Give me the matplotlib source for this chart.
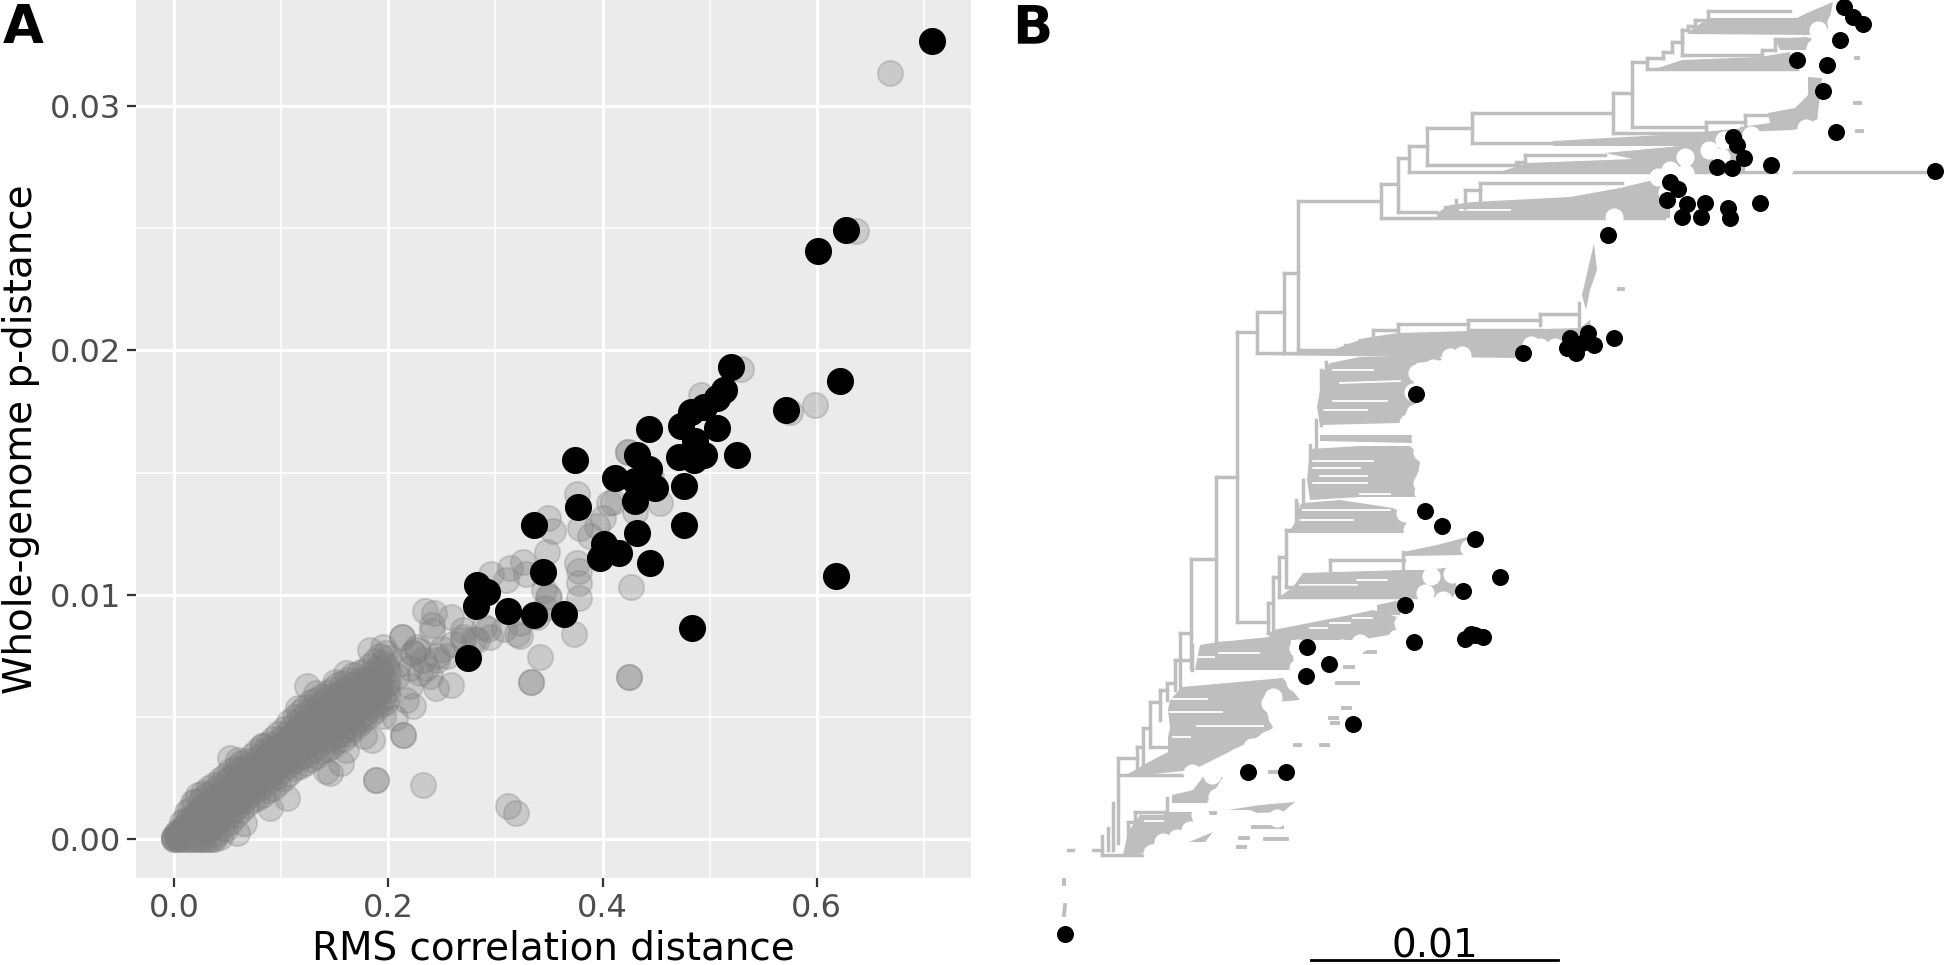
import matplotlib
matplotlib.use("Agg")
import matplotlib.pyplot as plt
from matplotlib.ticker import MultipleLocator

# panel A: highlighted genomes
black_x = [.708,.601,.627,.520,.622,.618,.571,.484,.526,.513,.507,.495,.483,.507,.473,.443,.495,.486,.485,.471,.432,.443,
           .430,.412,.449,.430,.476,.476,.432,.374,.377,.336,.344,.401,.398,.415,.444,.283,.292,.282,.312,.336,.364,.274]
black_y = [.03265,.02407,.02492,.01934,.01876,.01078,.01758,.00864,.01573,.01838,.01806,.01768,.0175,.01684,.01692,.01679,
           .01573,.01629,.01553,.01563,.01573,.01515,.01465,.01477,.01439,.01384,.01444,.01285,.01253,.0155,.01361,.01285,
           .01093,.01207,.01152,.01172,.01129,.0104,.0101,.00955,.00934,.00919,.00922,.0074]

# panel A: the rest, sparse part
grey_far = [(.668,.03136),(.637,.0249),(.529,.01924),(.598,.01778),(.575,.01747),(.492,.01818),(.424,.01586),(.424,.01586),
            (.376,.01414),(.406,.01376),(.400,.01313),(.454,.01376),(.349,.01313),(.354,.01263),(.379,.01275),(.388,.01242),
            (.348,.01174),(.376,.01131),(.378,.01098),(.378,.01048),(.378,.00985),(.427,.0103),(.349,.00997),(.346,.00947),
            (.296,.01086),(.314,.01111),(.326,.01136),(.329,.01086),(.339,.00909),(.373,.00841),(.342,.00745),(.333,.00644),
            (.333,.00644),(.425,.00664),(.425,.00664),(.323,.00833),(.323,.00884),(.308,.00859),(.293,.00859),
            (.445,.0148),(.41,.0138),(.43,.0134),(.395,.0128),(.31,.0106),(.35,.0099),(.345,.0102),(.32,.0084),
            (.124,.00625),(.133,.00598),(.116,.00537),(.0834,.0038),(.052,.00332),(.06,.00325),(.2142,.00425),(.2142,.00425),
            (.1886,.00243),(.1886,.00243),(.2328,.00223),(.312,.00134),(.319,.00107),(.146,.0027),(.142,.00277),(.156,.00311),
            (.161,.00366),(.1845,.00407),(.177,.00421),(.195,.00502),(.206,.00495),(.223,.00543),(.217,.00571),(.245,.00619),
            (.259,.00632),(.234,.00932),(.243,.00925),(.259,.00911),(.241,.00877),(.241,.00851),(.2125,.00829),(.2125,.00829),
            (.183,.00775),(.195,.00788),(.161,.00679),(.1505,.00645),(.0897,.00128),(.1051,.00168),(.0585,.00026),(.065,.00066),
            (.2234,.00762),(.2234,.00762),(.2266,.00788),(.2266,.00775),(.2328,.00735),(.2453,.00735),(.2453,.00748),(.2547,.00748),
            (.27,.00829),(.27,.00816),(.2826,.00816),(.295,.00829),(.289,.0087),(.27,.00857),(.2297,.00679),(.239,.00666),
            (.208,.00666),(.1986,.00612),(.22,.00625),(.21,.0072),(.22,.0070),(.235,.0070),(.25,.0078),(.26,.0080),(.28,.0082)]

# panel A: dense band, for each x the p-distances read across the band
band_x = [0,.005,.01,.015,.02,.025,.03,.035,.04,.045,.05,.055,.06,.065,.07,.075,.08,.085,.09,.095,.1,.105,.11,.115,.12,.125,
          .13,.135,.14,.145,.15,.155,.16,.165,.17,.175,.18,.185,.19,.195,.2]
band_y = [[0,.0001,0,.0001],[0,.0001,.0002,.0003],[0,.0003,.0005,.0008],[0,.0004,.0008,.0012],[0,.0005,.001,.0015],
          [0,.0004,.0008,.0012,.0016],[0,.0004,.0009,.0014,.0018],[0,.0005,.001,.0015,.0019],[.0002,.0007,.0012,.0017,.0021],
          [.0005,.0009,.0014,.0019,.0023],[.0009,.0013,.0017,.0021,.0024],[.0012,.0015,.0019,.0023,.0026],
          [.0014,.0017,.0021,.0025,.0028],[.0016,.0019,.0023,.0026,.0029],[.0018,.0021,.0024,.0027,.003],
          [.002,.0023,.0026,.0029,.0032],[.0021,.0024,.0028,.0031,.0034],[.0023,.0026,.003,.0033,.0036],
          [.0024,.0028,.0031,.0034,.0037],[.0026,.0029,.0033,.0036,.0039],[.0028,.0031,.0035,.0038,.0041],
          [.003,.0033,.0037,.004,.0043],[.0032,.0035,.0039,.0043,.0046],[.0033,.0037,.0041,.0045,.0048],
          [.0034,.0038,.0042,.0046,.005],[.0035,.0039,.0044,.0048,.0052],[.0037,.0041,.0045,.0049,.0053],
          [.0038,.0042,.0047,.0051,.0055],[.004,.0044,.0048,.0052,.0056],[.0041,.0045,.005,.0054,.0058],
          [.0042,.0046,.0051,.0055,.0059],[.0043,.0047,.0052,.0056,.006],[.0045,.0049,.0053,.0057,.0061],
          [.0046,.005,.0055,.0059,.0063],[.0048,.0052,.0056,.006,.0064],[.005,.0054,.0058,.0062,.0065],
          [.0052,.0055,.0059,.0063,.0066],[.0054,.0058,.0063,.0068],[.0056,.006,.0065,.007],[.0058,.0062,.0067,.0072],
          [.0058,.0064,.0069,.0074]]

# same band, the genomes lying between those columns
band2_x = [.0025,.0075,.0125,.0175,.0225,.0275,.0325,.0375,.0425,.0475,.0525,.0575,.0625,.0675,.0725,.0775,.0825,.0875,.0925,
           .0975,.1025,.1075,.1125,.1175,.1225,.1275,.1325,.1375,.1425,.1475,.1525,.1575,.1625,.1675,.1725,.1775,.1825,.1875,
           .1925,.1975]
band2_y = [[0,.0001,.0002,.0003],[0,.0002,.0004,.0007],[0,.0003,.0007,.0011],[0,.0004,.0009,.0015],[0,.0005,.0011,.0018],
           [0,.0006,.0013,.0019],[0,.0007,.0014,.0021],[0,.0007,.0015,.0022],[.0001,.0009,.0017,.0024],[.0004,.0011,.0019,.0026],
           [.0007,.0013,.002,.0028],[.001,.0015,.0022,.0029],[.0012,.0017,.0024,.0031],[.0014,.0019,.0026,.0032],
           [.0016,.0021,.0027,.0034],[.0017,.0023,.0029,.0036],[.0018,.0025,.0031,.0038],[.002,.0026,.0033,.0039],
           [.0021,.0028,.0034,.0041],[.0023,.003,.0037,.0043],[.0025,.0032,.0039,.0045],[.0027,.0034,.0041,.0048],
           [.0029,.0036,.0043,.005],[.003,.0037,.0045,.0052],[.0031,.0039,.0047,.0054],[.0033,.004,.0048,.0056],
           [.0034,.0042,.005,.0057],[.0036,.0044,.0052,.0058],[.0037,.0045,.0053,.006],[.0038,.0046,.0054,.0061],
           [.004,.0048,.0056,.0063],[.0041,.0049,.0057,.0064],[.0043,.0051,.0059,.0065],[.0045,.0053,.006,.0067],
           [.0047,.0054,.0061,.0068],[.0049,.0056,.0063,.0069],[.0051,.0058,.0065,.0071],[.0053,.006,.0067,.0073],
           [.0055,.0062,.0069,.0075],[.0056,.0064,.0071,.0076]]

xticks_a = [0.0, 0.2, 0.4, 0.6]
yticks_a = [0.00, 0.01, 0.02, 0.03]

# panel B: tree, x0, y0, x1, y1
branches = [(1632,62,1632,127),(1632,62,1647,62),(1647,58,1647,68),(1647,58,1663,58),(1663,58,1663,52),(1663,52,1672,52),
            (1672,52,1672,42),(1672,42,1682,42),(1682,42,1682,30),(1682,30,1688,30),(1688,30,1688,26),(1688,26,1695,26),
            (1695,26,1695,20),(1695,20,1708,20),(1708,20,1708,11),(1708,11,1790,11),(1682,30,1682,55),(1682,55,1762,55),
            (1762,50,1762,55),(1762,50,1775,50),(1775,39,1775,50),(1775,39,1809,39),(1647,69,1797,69),(1612.6,93,1632,93),
            (1612.6,93,1612.6,133),(1612.6,133,1706,133),(1632,127,1706,127),(1706,122,1706,133),(1706,122,1745,122),
            (1745,115,1745,125),(1745,115,1775,115),(1472,113,1612.6,113),(1472,113,1472,143),(1472,143,1560,143),
            (1427,128,1472,128),(1427,128,1427,165),(1427,165,1519,165),(1408.6,146,1427,146),(1408.6,146,1408.6,172),
            (1408.6,172,1929,172),(1398,158,1408.6,158),(1398,158,1398,212),(1398,212,1436,212),(1381,184,1398,184),
            (1381,184,1381,218),(1381,218,1664,218),(1297.5,201,1381,201),(1297.5,201,1297.5,350),(1297.5,350,1332,350),
            (1283.6,273,1297.5,273),(1283.6,273,1283.6,353),(1256.5,312,1283.6,312),(1256.5,312,1256.5,353),(1256.5,353,1340,353),
            (1236.6,332,1256.5,332),(1236.6,332,1236.6,622),(1236.6,622,1268,622),(1216,477,1236.6,477),(1216,477,1216,643),
            (1216,643,1240,643),(1190.6,559,1216,559),(1190.6,559,1190.6,668),(1180,633,1190.6,633),(1180,633,1180,690),
            (1268,603,1268,633),(1268,603,1273,603),(1268,633,1300,633),(1273,577,1273,632),(1273,577,1279,577),
            (1279,557,1279,597),(1279,597,1424,597),(1279,557,1286,557),(1286,530,1286,587),(1286,587,1360,587),
            (1286,530,1300,530),(1525,155,1605,155),(1516,162,1525,162),(1525,155,1525,165),(1480,183,1622,183),
            (1480,183,1480,200),(1465,190,1480,190),(1465,190,1465,208),(1456,200,1456,212),(1445,207,1456,207),
            (1458,206,1570,206),(1579,303,1579,327),(1540,314,1576,314),(1540,314,1540,325),(1468,320,1540,320),
            (1468,320,1468,330),(1468,330,1540,330),(1398,324,1468,324),(1398,324,1398,335),(1373,330,1398,330),(1373,330,1373,340),
            (1360,340,1373,340),(1345,345,1360,345),(1330,560,1404,560),(1330,560,1330,570),(1403,552,1403,570),
            (1192,645,1192,670),(1297,504,1297,530),
            # left edge of the big middle clades
            (1326,362,1326,372),(1321,370,1321,425),(1316,420,1316,450),(1310,445,1310,485),(1303,480,1303,505),(1296,500,1296,530),
            # bottom ladder
            (1175,660,1190,660),(1175,660,1175,690),(1167,683,1175,683),(1167,683,1167,700),(1160,690,1167,690),(1160,690,1160,720),
            (1150,702,1160,702),(1150,702,1150,747),(1150,747,1168,747),(1143,728,1150,728),(1143,728,1143,770),(1137,747,1143,747),
            (1137,747,1137,770),(1118,758,1137,758),(1118,758,1118,843),(1118,775,1190,775),(1113,803,1113,850),(1108,828,1108,850),
            (1102,836,1102,855),(1102,855,1147,855),(1068,850,1102,850),(1167,798,1167,812),(1135,812,1167,812),(1135,812,1135,840),
            (1128,822,1135,822),(1128,822,1128,845)]

# collapsed clades, drawn as filled shapes
clades = [[(1687,34),(1693,28),(1710,18),(1797,18),(1807,13),(1833,2),(1827,33),(1807,35)],
          [(1655,69),(1682,60),(1760,57),(1790,52),(1793,70)],
          [(1775,39),(1807,37),(1820,50),(1780,50)],
          [(1768,113),(1795,108),(1808,95),(1808,77),(1822,78),(1818,113),(1817,125),(1793,130),(1740,132),(1740,127),(1770,123)],
          [(1553,141),(1680,134),(1745,128),(1745,172),(1500,172),(1527,163),(1633,159),(1605,153),(1680,146),(1553,146)],
          [(1437,213),(1450,205),(1473,202),(1570,197),(1620,188),(1653,180),(1670,172),(1670,218),(1437,218)],
          [(1594,243),(1597,270),(1590,290),(1586,310),(1582,295)],
          [(1332,350),(1365,338),(1398,333),(1470,331),(1580,328),(1590,320),(1593,345),(1540,352),(1519,358),(1260,355)],
          [(1322,372),(1330,363),(1360,357),(1437,355),(1443,360),(1417,363),(1410,373),(1417,390),(1417,403),(1410,407),
           (1400,423),(1320,425),(1317,407),(1322,380)],
          [(1320,435),(1412,435),(1412,443),(1320,441)],
          [(1310,449),(1360,446),(1410,446),(1417,453),(1420,463),(1417,480),(1423,497),(1360,497),(1310,500),(1307,480)],
          [(1303,503),(1340,500),(1393,508),(1403,513),(1410,533),(1288,533),(1297,520),(1300,505)],
          [(1403,552),(1437,545),(1467,537),(1467,555),(1405,556)],
          [(1303,573),(1403,570),(1427,570),(1453,567),(1457,590),(1453,597),(1278,598),(1293,587)],
          [(1377,605),(1400,600),(1400,615),(1377,615)],
          [(1273,630),(1350,615),(1373,610),(1397,617),(1400,633),(1360,640),(1267,640)],
          [(1200,645),(1219,642),(1290,635),(1295,670),(1195,670)],
          [(1182,687),(1283,678),(1300,700),(1263,703),(1273,728),(1247,743),(1193,770),(1123,777),(1147,763),(1168,752),
           (1168,737),(1170,728),(1168,710),(1170,700)],
          [(1172,803),(1172,795),(1193,790),(1203,777),(1223,777),(1207,803)],
          [(1123,855),(1128,832),(1142,812),(1193,812),(1193,822),(1183,830),(1157,840),(1147,853)],
          [(1228,810),(1260,805),(1295,802),(1283,812),(1257,813),(1250,810)],
          [(1189,842),(1213,832),(1205,842)]]

# little bits of branch left between the white tips
stubs = [(1253,827,1282,827),(1265,839,1287,839),(1240,838,1248,838),(1238,847,1245,847),(1345,667,1353,667),
         (1337,683,1358,683),(1295,745,1300,745),(1321,745,1328,745),(1207,813,1215,813),(1365,652,1375,652),
         (1330,718,1337,718),(1332,723,1338,723),(1343,708,1350,708),(1270,772,1280,772),(1855,103,1860,103),
         (1857,131,1862,131),(1619,289,1623,289),(1856,58,1858,58),(1064,880,1064,884),(1065,905,1064,915)]

# gaps inside the clades
gaps = [(1333,370,1373,370),(1333,401,1387,401),(1323,410,1367,410),(1340,383,1400,381),(1313,461,1373,461),(1313,468,1360,468),
        (1320,476,1367,476),(1310,483,1367,483),(1360,494,1390,494),(1303,510,1390,510),(1300,520,1353,520),(1357,580,1387,580),
        (1300,585,1357,585),(1353,618,1372,618),(1330,623,1350,623),(1310,628,1327,628),(1460,210,1510,210),(1198,657,1214,657),
        (1219,653,1259,653),(1170,699,1207,699),(1170,712,1222,712),(1197,726,1263,726),(1173,737,1190,737),(1142,814,1163,814),
        (1145,821,1163,821)]

white_tips = [(1818,30),(1836,22),(1842,10),(1815,48),(1842,48),(1815,63),(1839,57),(1806,128),(1818,128),(1751,135),(1724,140),
              (1709,150),(1685,157),(1754,157),(1721,157),(1670,170),(1685,173),(1658,177),(1667,192),(1614,217),(1785,167),
              (1531,345),(1555,347),(1540,347),(1450,357),(1462,355),(1417,373),(1433,368),(1413,392),(1440,393),(1415,413),
              (1408,423),(1420,438),(1422,452),(1432,463),(1425,477),(1422,483),(1423,492),(1405,513),(1412,530),(1430,530),
              (1469,548),(1431,576),(1452,574),(1425,593),(1443,600),(1403,623),(1397,638),(1360,643),(1298,648),(1323,652),
              (1342,648),(1298,668),(1295,682),(1273,697),(1270,703),(1277,717),(1283,730),(1267,740),(1252,747),(1237,757),
              (1222,767),(1212,775),(1192,773),(1217,797),(1200,815),(1190,830),(1177,838),(1163,842),(1152,853),(1083,853),
              (1277,818),(1263,795)]

black_tips = [(1844,7),(1853,17),(1863,24),(1840,40),(1797,60),(1827,65),(1823,91),(1836,132),(1733,137),(1737,145),(1743.5,158),
              (1717,167),(1732,168),(1771,165),(1935,171),(1670,182),(1678,189),(1667,200),(1687,204),(1682,217),(1705,203),
              (1701,217),(1728,208),(1730,218),(1760,203),(1608,235),(1523,353),(1570,338),(1567,348),(1576,353),(1588,333),
              (1582,343),(1594,345),(1614,338),(1416,394),(1425,511),(1442,526),(1475,539),(1500,577),(1463,591),(1405,605),
              (1414,642),(1465,639),(1471,634),(1475,635),(1483,637),(1307,647),(1329,664),(1306,676),(1353,724),(1248,772),
              (1286,772),(1065,934)]

scale_bar = (1311, 1558)

W, H = 1946, 965
fig = plt.figure(figsize=(W/100, H/100), dpi=100)

# A
ax = fig.add_axes([136/W, 1-878/H, (971-136)/W, 878/H])
ax.set_facecolor("#ebebeb")
gx = [p[0] for p in grey_far]
gy = [p[1] for p in grey_far]
for x, ys in list(zip(band_x, band_y)) + list(zip(band2_x, band2_y)):
    for y in ys:
        gx.append(x)
        gy.append(y)
ax.scatter(gx, gy, s=330, color="#808080", alpha=0.3, linewidths=1.4, zorder=3)
ax.scatter(black_x, black_y, s=380, color="black", linewidths=0, zorder=4)
ax.set_xlim(-0.0355, 0.744)
ax.set_ylim(-0.00159, 0.03434)
ax.set_xticks(xticks_a)
ax.set_yticks(yticks_a)
ax.set_xticklabels(["%.1f" % v for v in xticks_a])
ax.set_yticklabels(["%.2f" % v for v in yticks_a])
ax.xaxis.set_minor_locator(MultipleLocator(0.1))
ax.yaxis.set_minor_locator(MultipleLocator(0.005))
ax.grid(True, which="major", color="white", lw=2.2, zorder=1)
ax.grid(True, which="minor", color="white", lw=1.1, zorder=1)
ax.set_axisbelow(True)
for s in ax.spines.values():
    s.set_visible(False)
ax.tick_params(which="major", length=6.5, width=1.6, color="#333333", labelcolor="#4d4d4d", labelsize=23, pad=4)
ax.tick_params(which="minor", length=0)
ax.set_xlabel("RMS correlation distance", fontsize=28, color="black", labelpad=4)
ax.set_ylabel("Whole-genome p-distance", fontsize=28, color="black", labelpad=7)

# B
tree = fig.add_axes([1000/W, 0, 946/W, 1])
tree.set_xlim(1000, 1946)
tree.set_ylim(965, 0)
tree.axis("off")
branch_col = "#bebebe"
for c in clades:
    tree.fill([p[0] for p in c], [p[1] for p in c], color=branch_col, lw=0, zorder=1)
for b in gaps:
    tree.plot([b[0], b[2]], [b[1], b[3]], color="white", lw=1.3, zorder=1.5)
for b in branches:
    tree.plot([b[0], b[2]], [b[1], b[3]], color=branch_col, lw=2.5, solid_capstyle="projecting", zorder=2)
for b in stubs:
    tree.plot([b[0], b[2]], [b[1], b[3]], color=branch_col, lw=2.8, zorder=2)
tree.scatter([p[0] for p in white_tips], [p[1] for p in white_tips], s=170, color="white", linewidths=0, zorder=3)
tree.scatter([p[0] for p in black_tips], [p[1] for p in black_tips], s=150, color="black", linewidths=0, zorder=4)
tree.plot(scale_bar, [960, 960], color="black", lw=2, zorder=4)
tree.text(sum(scale_bar)/2, 958, "0.01", fontsize=28, ha="center", va="baseline", zorder=5)

fig.text(3/W, 1-43/H, "A", fontsize=38, fontweight="bold", ha="left", va="baseline")
fig.text(1012/W, 1-43/H, "B", fontsize=38, fontweight="bold", ha="left", va="baseline")

fig.savefig("out.png", dpi=100)
